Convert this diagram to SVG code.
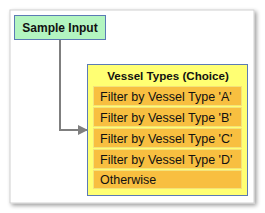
<svg xmlns="http://www.w3.org/2000/svg" width="265" height="213" viewBox="0 0 265 213">
<defs>
<filter id="sh" x="-10%" y="-10%" width="120%" height="120%"><feGaussianBlur in="SourceAlpha" stdDeviation="2"/><feOffset dx="2" dy="2"/><feComponentTransfer><feFuncA type="linear" slope="0.4"/></feComponentTransfer><feMerge><feMergeNode/><feMergeNode in="SourceGraphic"/></feMerge></filter>
<marker id="arr" markerWidth="10" markerHeight="10" refX="9" refY="5" orient="auto" markerUnits="userSpaceOnUse"><path d="M0,0 L10,5 L0,10 Z" fill="#7f7f7f"/></marker>
<style>
.t{font-family:"Liberation Sans",Arial,sans-serif;font-size:12.5px;fill:#111}
.b{font-weight:bold;font-size:12px}
.row{fill:#f8bf40;stroke:#f3e27a;stroke-width:1}
</style>
</defs>
<rect x="10" y="10" width="244" height="193" fill="#fff" stroke="#d0d0d0" stroke-width="1" filter="url(#sh)"/>
<g id="connectors">
<path d="M60,40 V130 H87" fill="none" stroke="#7f7f7f" stroke-width="2" marker-end="url(#arr)"/>
</g>
<g id="sample-input">
<rect x="14.5" y="15.5" width="91" height="24" fill="#b3f5c0" stroke="#5b7bb5" stroke-width="1"/>
<text class="t b" x="60" y="32" text-anchor="middle">Sample Input</text>
</g>
<g id="vessel-types">
<rect x="87.5" y="64.5" width="160" height="131" fill="#ffff73" stroke="#5b7bb5" stroke-width="1"/>
<text class="t b" x="168" y="79.5" text-anchor="middle" style="font-size:11.6px">Vessel Types (Choice)</text>
<rect class="row" x="93.5" y="86.5" width="148" height="19"/>
<text class="t" x="100" y="100.5">Filter by Vessel Type 'A'</text>
<rect class="row" x="93.5" y="107.5" width="148" height="19"/>
<text class="t" x="100" y="121.5">Filter by Vessel Type 'B'</text>
<rect class="row" x="93.5" y="128.5" width="148" height="19"/>
<text class="t" x="100" y="142.5">Filter by Vessel Type 'C'</text>
<rect class="row" x="93.5" y="149.5" width="148" height="19"/>
<text class="t" x="100" y="163.5">Filter by Vessel Type 'D'</text>
<rect class="row" x="93.5" y="170.5" width="148" height="18"/>
<text class="t" x="100" y="184">Otherwise</text>
</g>
</svg>
